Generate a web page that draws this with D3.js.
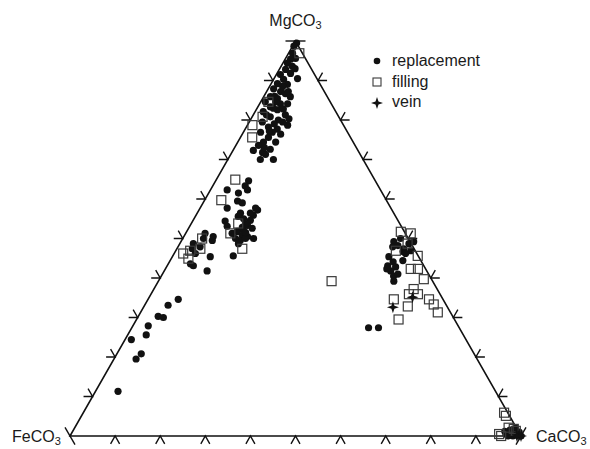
<!DOCTYPE html>
<html>
<head>
<meta charset="utf-8">
<script src="https://cdn.jsdelivr.net/npm/d3@7"></script>
<style>
  body { margin: 0; background: #fff; }
  svg { display: block; }
  text { font-family: "Liberation Sans", Arial, sans-serif; fill: #1a1a1a; }
</style>
</head>
<body>
<div id="chart"></div>
<script>
// vertex labels (top, left, right) - subscript 3 added when drawing
const vertexLabels = ["MgCO", "FeCO", "CaCO"];
const legendLabels = ["replacement", "filling", "vein"];

// points as [MgCO3 %, CaCO3 %]  (FeCO3 = 100 - Mg - Ca)
const replacement = [
  [99.5, 0.5], [98.7, 0.3], [96.9, 0.9], [95.4, 1.2], [95.6, 2.2], [94.4, 1.0], [93.6, 2.5], [92.8, 1.4],
  [91.5, 0.9], [91.8, 3.0], [90.5, 5.2], [90.3, 2.2], [89.2, 1.4], [89.0, 3.7], [87.9, 1.2], [87.2, 3.1],
  [86.7, 4.4], [85.9, 1.5], [85.4, 3.3], [84.6, 1.0], [84.1, 4.6], [84.1, 6.2], [83.3, 2.8], [82.6, 4.7],
  [82.8, 5.9], [82.1, 1.8], [81.3, 7.1], [80.8, 4.0], [80.0, 6.2], [79.5, 2.9], [78.7, 8.9], [78.2, 4.9],
  [77.7, 7.1], [76.9, 3.8], [76.4, 8.5], [75.6, 6.2], [74.4, 5.7], [74.4, 8.4], [73.6, 5.0], [72.6, 8.1],
  [72.3, 4.5], [71.3, 7.7], [70.0, 10.1], [70.0, 7.2], [88.5, 2.9], [84.6, 3.3], [79.5, 7.4], [76.9, 6.4],
  [81.3, 2.9], [85.9, 5.9], [79.0, 5.8], [71.8, 6.8], [87.2, 4.8], [93.0, 3.4], [83.0, 3.6], [77.2, 5.6],
  [73.0, 6.6], [80.3, 8.4], [86.0, 2.4],
  [64.6, 7.3], [63.3, 7.2], [62.3, 8.2], [62.3, 3.7], [61.5, 6.6], [59.5, 7.4], [59.0, 8.7], [57.7, 6.0],
  [57.2, 13.0], [56.4, 9.6], [55.9, 12.7], [55.6, 9.5], [54.6, 12.7], [54.4, 7.2], [53.3, 12.7], [53.1, 8.3],
  [52.1, 12.4], [52.6, 14.1], [51.8, 11.2], [51.3, 10.3], [50.8, 12.8], [50.5, 14.1], [50.0, 15.7], [49.5, 13.0],
  [51.3, 4.3], [50.0, 4.6], [49.5, 6.8], [48.7, 3.0], [50.5, 6.5], [47.9, 4.9], [47.4, 3.4], [46.2, 4.7],
  [45.4, 8.4], [45.6, 13.4], [43.6, 4.9], [43.1, 5.8], [41.8, 9.5], [53.8, 12.0], [56.4, 11.8], [57.7, 12.3],
  [50.0, 11.7], [50.0, 13.9], [48.7, 13.0], [55.0, 11.0], [52.8, 11.8], [51.5, 13.2],
  [34.6, 6.7], [33.1, 5.2], [30.3, 4.4], [30.0, 5.7], [27.9, 3.4], [25.6, 4.1], [24.4, 1.4], [20.8, 5.4],
  [19.5, 4.9], [11.3, 5.0],
  [49.2, 47.2], [47.9, 47.6], [48.2, 48.6], [47.4, 50.3], [48.7, 50.8], [49.2, 51.6], [46.9, 52.1], [46.7, 50.5],
  [43.1, 48.9], [44.1, 49.6], [42.8, 50.8], [44.4, 51.6], [41.8, 50.2], [40.5, 51.5], [41.0, 52.2], [39.2, 52.2],
  [27.4, 52.5], [27.4, 54.7], [42.3, 49.1], [50.0, 48.3], [46.2, 51.3], [45.4, 48.0],
  [0.5, 96.4], [0.8, 97.4], [0.3, 98.7], [1.0, 99.1], [0, 100], [0, 98.2], [0, 97.1], [1.5, 96.8],
  [2.0, 97.8], [0.3, 97.8], [1.2, 95.8]
];

const filling = [
  [96.9, 2.4], [78.7, 1.1], [75.6, 2.6], [84.6, 1.7], [80.8, 2.3],
  [64.9, 4.2], [59.7, 3.7], [53.8, 10.4], [51.3, 9.9], [47.4, 14.5], [50.0, 4.3], [46.2, 2.0], [44.9, 3.8],
  [46.9, 3.2], [47.4, 5.2],
  [51.7, 47.5], [51.3, 49.9], [46.9, 48.8], [48.7, 50.5], [45.6, 54.3], [42.3, 54.4], [42.3, 56.0], [39.7, 58.6],
  [37.2, 57.6], [35.9, 59.2], [35.9, 57.2], [34.6, 54.5], [32.8, 58.5], [34.6, 62.3], [33.3, 64.0], [31.3, 65.9],
  [29.5, 58.1], [39.2, 38.4],
  [5.9, 93.3], [5.1, 94.1], [0.5, 94.9], [2.1, 96.2], [1.8, 97.5], [0, 95.6], [1.3, 98.2]
];

const vein = [
  [35.1, 58.4], [32.6, 55.3], [0.3, 99.4], [0, 100], [0, 99.1]
];

const ticks = [10, 20, 30, 40, 50, 60, 70, 80, 90];

const w = 590, h = 449;
const L = { x: 70, y: 436 }, R = { x: 521, y: 436 };
const topY = 41;

// base position = Ca + Mg/2, height = Mg
const xScale = d3.scaleLinear().domain([0, 100]).range([L.x, R.x]);
const yScale = d3.scaleLinear().domain([0, 100]).range([L.y, topY]);
const px = d => xScale(d[1] + d[0] / 2);
const py = d => yScale(d[0]);
const T = { x: xScale(50), y: topY };

const svg = d3.select('#chart').append('svg')
  .attr('width', w)
  .attr('height', h);

// triangle
svg.append('path')
  .attr('d', `M${L.x},${L.y}L${R.x},${R.y}L${T.x},${T.y}Z`)
  .attr('fill', 'none')
  .attr('stroke', '#111')
  .attr('stroke-width', 1.6)
  .attr('stroke-linejoin', 'miter');

// tick chevrons: two stubs parallel to the other sides, pointing outward
const len = 9;
const s3 = Math.sqrt(3) / 2;
const sides = [
  { pts: ticks.map(t => [0, t]), dirs: [[-0.5, s3], [0.5, s3]] },       // bottom
  { pts: ticks.map(t => [t, 0]), dirs: [[-1, 0], [-0.5, -s3]] },        // left
  { pts: ticks.map(t => [t, 100 - t]), dirs: [[1, 0], [0.5, -s3]] }     // right
];
const tickG = svg.append('g').attr('stroke', '#111').attr('stroke-width', 1.4).attr('fill', 'none');
sides.forEach(s => {
  tickG.selectAll(null)
    .data(s.pts)
    .enter()
    .append('path')
    .attr('d', d => {
      const x = px(d), y = py(d);
      return `M${x + s.dirs[0][0] * len},${y + s.dirs[0][1] * len}L${x},${y}L${x + s.dirs[1][0] * len},${y + s.dirs[1][1] * len}`;
    });
});

// vertex marks, parallel to the opposite side
const vlen = 10;
const vmarks = [
  { p: T, dir: [1, 0] },
  { p: L, dir: [0.5, s3] },
  { p: R, dir: [0.5, -s3] }
];
tickG.selectAll(null)
  .data(vmarks)
  .enter()
  .append('line')
  .attr('x1', d => d.p.x - d.dir[0] * vlen)
  .attr('y1', d => d.p.y - d.dir[1] * vlen)
  .attr('x2', d => d.p.x + d.dir[0] * vlen)
  .attr('y2', d => d.p.y + d.dir[1] * vlen);

// markers
const star = 'M0,-6L1.5,-1.5L6,0L1.5,1.5L0,6L-1.5,1.5L-6,0L-1.5,-1.5Z';

svg.append('g')
  .selectAll('circle')
  .data(replacement)
  .enter()
  .append('circle')
  .attr('cx', px)
  .attr('cy', py)
  .attr('r', 3.6)
  .attr('fill', '#111');

svg.append('g')
  .selectAll('rect')
  .data(filling)
  .enter()
  .append('rect')
  .attr('x', d => px(d) - 4.5)
  .attr('y', d => py(d) - 4.5)
  .attr('width', 9)
  .attr('height', 9)
  .attr('fill', 'none')
  .attr('stroke', '#3a3a3a')
  .attr('stroke-width', 1.2);

svg.append('g')
  .selectAll('path')
  .data(vein)
  .enter()
  .append('path')
  .attr('transform', d => `translate(${px(d)},${py(d)})`)
  .attr('d', star)
  .attr('fill', '#111');

// vertex labels
const labelPos = [
  { x: T.x, y: 26, anchor: 'middle' },
  { x: 12, y: 442, anchor: 'start' },
  { x: 536, y: 442, anchor: 'start' }
];
vertexLabels.forEach((lab, i) => {
  const t = svg.append('text')
    .attr('x', labelPos[i].x)
    .attr('y', labelPos[i].y)
    .attr('text-anchor', labelPos[i].anchor)
    .style('font-size', '16px');
  t.append('tspan').text(lab);
  t.append('tspan').attr('dy', 3).style('font-size', '11px').text('3');
});

// legend
const legend = svg.append('g').attr('transform', 'translate(377,61)');
legend.append('circle').attr('cx', 0).attr('cy', 0).attr('r', 3.3).attr('fill', '#111');
legend.append('rect').attr('x', -4).attr('y', 17).attr('width', 8).attr('height', 8)
  .attr('fill', 'none').attr('stroke', '#3a3a3a').attr('stroke-width', 1.1);
legend.append('path').attr('transform', 'translate(0,42)').attr('d', star).attr('fill', '#111');
legend.selectAll('text')
  .data(legendLabels)
  .enter()
  .append('text')
  .attr('x', 15)
  .attr('y', (d, i) => 5 + i * 20.5)
  .style('font-size', '16px')
  .text(d => d);
</script>
</body>
</html>
